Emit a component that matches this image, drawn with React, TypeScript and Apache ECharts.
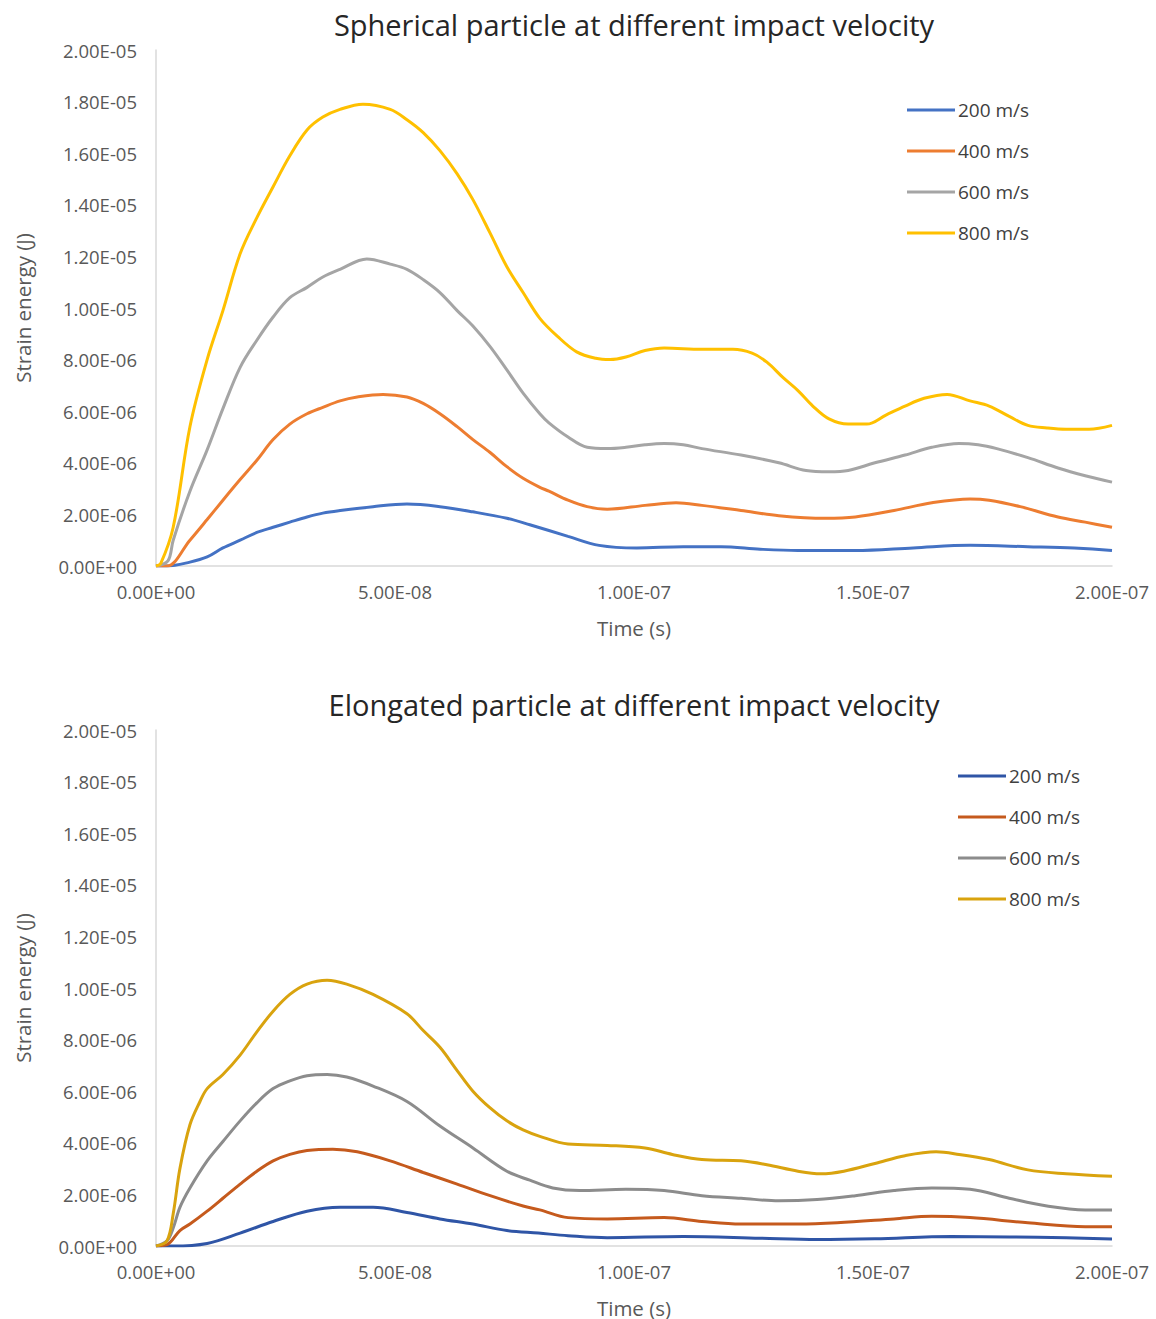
import React, { useEffect, useRef } from "react";
import * as echarts from "echarts";

// Time in ns (1e-9 s), strain energy in µJ (1e-6 J)
const seriesNames = ["200 m/s", "400 m/s", "600 m/s", "800 m/s"];
const xTicks = [0, 50, 100, 150, 200];
const yTicks = [0, 2, 4, 6, 8, 10, 12, 14, 16, 18, 20];

const sph200: [number, number][] = [[0,0],[2.3,0],[7.1,0.15],[10.7,0.35],[14,0.7],[17.6,1.0],[21.1,1.3],[24.5,1.5],[28,1.7],[31.6,1.9],[34.9,2.05],[38.5,2.15],[45.4,2.3],[52.5,2.4],[59.4,2.3],[66.3,2.1],[73.4,1.85],[78.2,1.6],[86.2,1.15],[92.7,0.8],[100.6,0.7],[110.3,0.75],[118.2,0.75],[126.4,0.65],[134.3,0.6],[146.3,0.6],[158.4,0.7],[170.3,0.8],[182.4,0.75],[192.1,0.7],[200,0.6]];
const sph400: [number, number][] = [[0,0],[2.3,0],[7.1,1.0],[10.7,1.8],[14,2.55],[17.6,3.35],[21.1,4.1],[24.5,4.9],[28,5.5],[31.6,5.9],[34.9,6.15],[38.5,6.4],[42.1,6.55],[47.5,6.65],[52.5,6.55],[55.9,6.3],[59.4,5.9],[63,5.4],[66.3,4.9],[69.9,4.4],[73.4,3.85],[76.8,3.4],[80.3,3.05],[82.2,2.9],[86.2,2.55],[90.2,2.3],[94.4,2.2],[102.3,2.35],[108.8,2.45],[114.2,2.35],[122.4,2.15],[130.3,1.95],[140,1.85],[146.3,1.9],[154.4,2.15],[162.3,2.45],[170.3,2.6],[174.3,2.55],[180.8,2.3],[188.7,1.9],[194.4,1.7],[200,1.5]];
const sph600: [number, number][] = [[0,0],[2.5,0.2],[3.6,1.0],[7.1,2.9],[10.7,4.5],[14,6.1],[17.6,7.7],[21.1,8.75],[24.5,9.65],[28,10.4],[31.6,10.8],[34.9,11.2],[38.5,11.5],[44.1,11.9],[49,11.7],[52.5,11.5],[55.9,11.1],[59.4,10.6],[63,9.9],[66.3,9.3],[69.9,8.5],[73.4,7.6],[76.8,6.7],[80.3,5.9],[82.2,5.55],[86.2,5.0],[90.2,4.6],[94.4,4.55],[98.3,4.6],[102.3,4.7],[106.3,4.75],[110.3,4.7],[114.2,4.55],[122.4,4.3],[130.3,4.0],[136,3.7],[140.8,3.65],[144.8,3.7],[150.4,4.0],[156.7,4.3],[162.3,4.6],[168,4.75],[172,4.7],[175.9,4.55],[182.4,4.2],[188.7,3.8],[194.4,3.5],[200,3.25]];
const sph800: [number, number][] = [[0,0],[1,0.1],[3.6,1.5],[7.1,5.4],[10.7,8.0],[14,9.9],[17.6,12.1],[21.1,13.5],[24.5,14.7],[28,15.9],[31.6,16.9],[34.9,17.4],[38.5,17.7],[43.3,17.9],[49,17.7],[52.5,17.3],[55.9,16.8],[59.4,16.1],[63,15.2],[66.3,14.2],[69.9,12.9],[73.4,11.6],[76.8,10.6],[80.3,9.6],[84,8.9],[88,8.3],[92,8.05],[95,8.0],[98.3,8.1],[102.3,8.35],[106.3,8.45],[114.2,8.4],[120.7,8.4],[124.7,8.25],[127.8,7.9],[131.2,7.3],[134.3,6.8],[137.4,6.2],[140.8,5.7],[144.8,5.5],[148.7,5.5],[152.7,5.85],[156.7,6.2],[160.7,6.5],[165.5,6.65],[170.3,6.4],[174.3,6.2],[178.5,5.8],[182.4,5.45],[186.4,5.35],[190.4,5.3],[195.2,5.3],[200,5.45]];

const elo200: [number, number][] = [[0,0],[3.6,0],[10.7,0.1],[17.6,0.5],[24.5,0.95],[31.6,1.35],[38.5,1.5],[45.4,1.5],[52.5,1.3],[59.4,1.05],[66.3,0.85],[73.4,0.6],[80,0.5],[86.2,0.4],[94.4,0.32],[110.3,0.37],[126.4,0.3],[138.3,0.25],[150.4,0.28],[166.4,0.37],[178.5,0.35],[190.4,0.32],[200,0.27]];
const elo400: [number, number][] = [[0,0],[2.3,0.05],[5,0.6],[7.1,0.85],[10.7,1.35],[14,1.85],[17.6,2.4],[21.1,2.9],[24.5,3.3],[28,3.55],[31.6,3.7],[37,3.75],[42.1,3.65],[49,3.3],[55.9,2.85],[63,2.4],[69.9,1.95],[76.8,1.55],[80.3,1.4],[86.2,1.1],[94.4,1.05],[106.3,1.1],[114.2,0.95],[122.4,0.85],[134.3,0.85],[142.5,0.9],[154.4,1.05],[162.3,1.15],[170.3,1.1],[182.4,0.9],[194.4,0.75],[200,0.75]];
const elo600: [number, number][] = [[0,0],[2.3,0.2],[3.6,0.7],[5,1.5],[7.1,2.25],[10.7,3.3],[14,4.05],[17.6,4.85],[21.1,5.55],[24.5,6.1],[28,6.4],[31.6,6.6],[35.8,6.65],[39.9,6.55],[45.4,6.2],[52.5,5.6],[59.4,4.65],[66.3,3.8],[73.4,2.9],[78.2,2.55],[83,2.25],[88.6,2.15],[98.3,2.2],[106.3,2.15],[114.2,1.95],[122.4,1.85],[130.3,1.75],[138.3,1.8],[146.3,1.95],[154.4,2.15],[162.3,2.25],[170.3,2.2],[178.5,1.85],[186.4,1.55],[194.4,1.4],[200,1.4]];
const elo800: [number, number][] = [[0,0],[2.3,0.2],[3.6,1.25],[5,3.0],[7.1,4.7],[9.2,5.6],[10.7,6.1],[14,6.65],[17.6,7.4],[21.1,8.3],[24.5,9.1],[28,9.75],[31.6,10.15],[35.8,10.3],[39.9,10.15],[45.4,9.75],[52.5,9.0],[55.9,8.35],[59.4,7.7],[63,6.8],[66.3,6.0],[69.9,5.35],[73.4,4.85],[76.8,4.5],[80.3,4.25],[86.2,3.95],[94.4,3.9],[102.3,3.8],[108,3.55],[114.2,3.35],[122.4,3.3],[127.8,3.15],[134.3,2.9],[139.1,2.8],[143.9,2.9],[150.4,3.2],[156.7,3.5],[163.2,3.65],[168,3.55],[174.3,3.35],[182.4,2.95],[190.4,2.8],[200,2.7]];

const topColors = ["#4472C4", "#ED7D31", "#A5A5A5", "#FFC000"];
const bottomColors = ["#2F55A6", "#C55A1D", "#8C8C8C", "#D9A30E"];

const FONT = "'Open Sans', sans-serif";

function sci(v: number): string {
  const s = v.toExponential(2);
  const [m, e] = s.split("e");
  const sign = e[0] === "-" ? "-" : "+";
  const digits = e.replace(/[+-]/, "").padStart(2, "0");
  return m + "E" + sign + digits;
}

function buildOption(title: string, data: [number, number][][], colors: string[], legendLeft: number, legendTop: number) {
  return {
    animation: false,
    backgroundColor: "#ffffff",
    color: colors,
    graphic: [
      {
        type: "text",
        x: 634,
        y: 24,
        style: {
          text: title,
          font: `29px ${FONT}`,
          fill: "#262626",
          align: "center",
          verticalAlign: "middle",
        },
      },
    ],
    grid: { left: 156, right: 44, top: 50, height: 516 },
    legend: {
      orient: "vertical",
      left: legendLeft,
      top: legendTop,
      padding: 0,
      icon: "rect",
      itemWidth: 48,
      itemHeight: 3,
      itemGap: 19,
      selectedMode: false,
      textStyle: { fontFamily: FONT, fontSize: 19, color: "#404040", lineHeight: 22, padding: [0, 0, 0, -2] },
      data: seriesNames,
    },
    xAxis: {
      type: "value",
      min: xTicks[0],
      max: xTicks[xTicks.length - 1],
      interval: xTicks[1] - xTicks[0],
      name: "Time (s)",
      nameLocation: "middle",
      nameGap: 51,
      nameTextStyle: { fontFamily: FONT, fontSize: 20.5, color: "#595959" },
      axisLine: { show: true, lineStyle: { color: "#D9D9D9", width: 1.5 } },
      axisTick: { show: false },
      splitLine: { show: false },
      axisLabel: {
        fontFamily: FONT,
        fontSize: 18.5,
        color: "#595959",
        margin: 16,
        formatter: (v: number) => sci(v * 1e-9),
      },
    },
    yAxis: {
      type: "value",
      min: yTicks[0],
      max: yTicks[yTicks.length - 1],
      interval: yTicks[1] - yTicks[0],
      name: "Strain energy (J)",
      nameLocation: "middle",
      nameGap: 123,
      nameTextStyle: { fontFamily: FONT, fontSize: 20.5, color: "#595959" },
      axisLine: { show: true, lineStyle: { color: "#D9D9D9", width: 1.5 } },
      axisTick: { show: false },
      splitLine: { show: false },
      axisLabel: {
        fontFamily: FONT,
        fontSize: 18.5,
        color: "#595959",
        margin: 19,
        formatter: (v: number) => sci(v * 1e-6),
      },
    },
    series: data.map((d, i) => ({
      name: seriesNames[i],
      type: "line",
      data: d,
      smooth: 0.35,
      showSymbol: false,
      symbol: "none",
      lineStyle: { width: 3, color: colors[i] },
      itemStyle: { color: colors[i] },
      z: 2 + i,
    })),
  };
}

function Chart({ top, title, data, colors, legendLeft, legendTop }: { top: number; title: string; data: [number, number][][]; colors: string[]; legendLeft: number; legendTop: number }) {
  const ref = useRef<HTMLDivElement>(null);
  useEffect(() => {
    if (!ref.current) return;
    const chart = echarts.init(ref.current, undefined, { renderer: "svg" });
    chart.setOption(buildOption(title, data, colors, legendLeft, legendTop) as any);
    return () => chart.dispose();
  }, []);
  return (
    <div
      ref={ref}
      style={{ position: "absolute", left: 0, top, width: 1156, height: 660 }}
    />
  );
}

export default function App() {
  return (
    <div style={{ position: "absolute", left: 0, top: 0, width: 1156, height: 1319, background: "#fff" }}>
      <Chart top={0} title="Spherical particle at different impact velocity" data={[sph200, sph400, sph600, sph800]} colors={topColors} legendLeft={907} legendTop={99} />
      <Chart top={680} title="Elongated particle at different impact velocity" data={[elo200, elo400, elo600, elo800]} colors={bottomColors} legendLeft={958} legendTop={85} />
    </div>
  );
}
